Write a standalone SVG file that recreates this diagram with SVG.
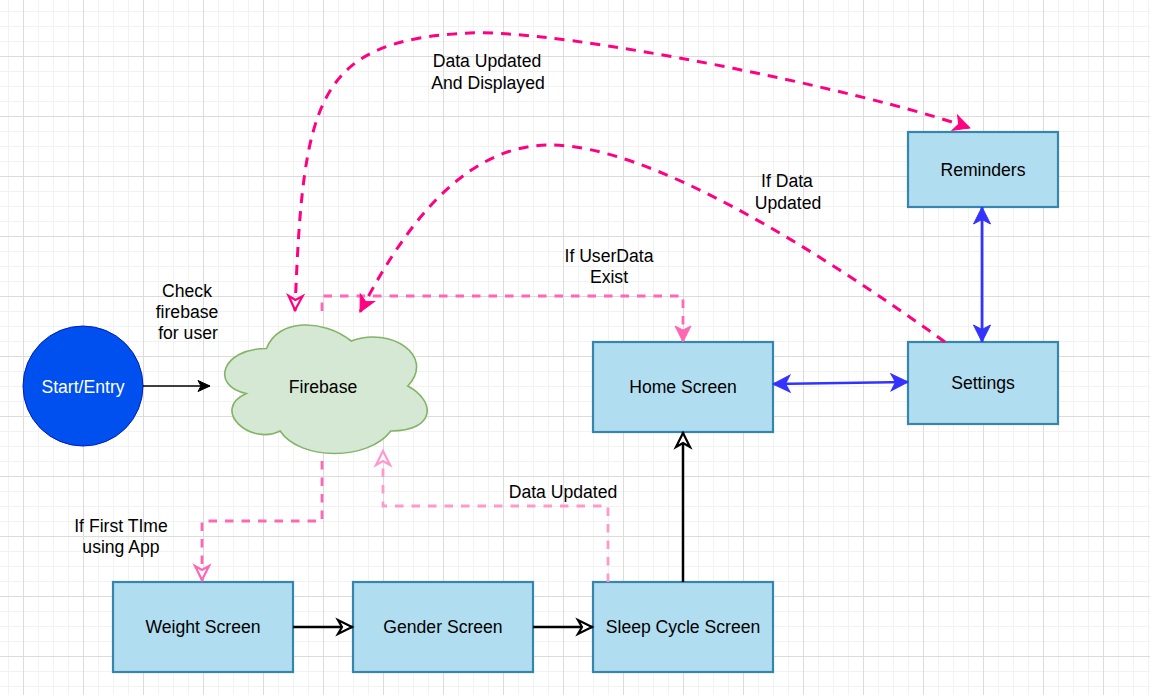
<svg xmlns="http://www.w3.org/2000/svg" width="1150" height="695" viewBox="0 0 1150 695">
<defs>
<pattern id="gMinor" patternUnits="userSpaceOnUse" x="8" y="11" width="15" height="15">
<path d="M0.5,0 V15 M0,0.5 H15" fill="none" stroke="#f2f2f2" stroke-width="1"/>
</pattern>
<pattern id="gMajor" patternUnits="userSpaceOnUse" x="23" y="56" width="60" height="60">
<path d="M0.5,0 V60 M0,0.5 H60" fill="none" stroke="#dcdcdc" stroke-width="1"/>
</pattern>
<marker id="aBlack" markerUnits="userSpaceOnUse" orient="auto-start-reverse" refX="0" refY="0" markerWidth="1" markerHeight="1" overflow="visible">
<path d="M0,0 L-12,-5.5 L-9,0 L-12,5.5 Z" fill="#000" stroke="#000" stroke-width="1"/>
</marker>
<marker id="aBlackOpen" markerUnits="userSpaceOnUse" orient="auto-start-reverse" refX="0" refY="0" markerWidth="1" markerHeight="1" overflow="visible">
<path d="M-1,0 L-15,-7 L-11,0 L-15,7 Z" fill="#fff" stroke="#000" stroke-width="2.2"/>
</marker>
<marker id="aPinkOpen" markerUnits="userSpaceOnUse" orient="auto-start-reverse" refX="0" refY="0" markerWidth="1" markerHeight="1" overflow="visible">
<path d="M-1,0 L-15,-7 L-11,0 L-15,7 Z" fill="#fff" stroke="#ff66b3" stroke-width="2.2"/>
</marker>
<marker id="aLPinkOpen" markerUnits="userSpaceOnUse" orient="auto-start-reverse" refX="0" refY="0" markerWidth="1" markerHeight="1" overflow="visible">
<path d="M-1,0 L-15,-7 L-11,0 L-15,7 Z" fill="#fff" stroke="#ff99cc" stroke-width="2.2"/>
</marker>
<marker id="aDPinkOpen" markerUnits="userSpaceOnUse" orient="auto-start-reverse" refX="0" refY="0" markerWidth="1" markerHeight="1" overflow="visible">
<path d="M-1,0 L-15,-7 L-11,0 L-15,7 Z" fill="#fff" stroke="#ff0080" stroke-width="2.2"/>
</marker>
<marker id="aPink" markerUnits="userSpaceOnUse" orient="auto-start-reverse" refX="0" refY="0" markerWidth="1" markerHeight="1" overflow="visible">
<path d="M0,0 L-16,-8 L-12,0 L-16,8 Z" fill="#ff66b3" stroke="#ff66b3" stroke-width="1"/>
</marker>
<marker id="aDPink" markerUnits="userSpaceOnUse" orient="auto-start-reverse" refX="0" refY="0" markerWidth="1" markerHeight="1" overflow="visible">
<path d="M0,0 L-16,-8 L-12,0 L-16,8 Z" fill="#ff0080" stroke="#ff0080" stroke-width="1"/>
</marker>
<marker id="aBlue" markerUnits="userSpaceOnUse" orient="auto-start-reverse" refX="0" refY="0" markerWidth="1" markerHeight="1" overflow="visible">
<path d="M0,0 L-17,-8.5 L-12.5,0 L-17,8.5 Z" fill="#3333ff" stroke="#3333ff" stroke-width="1"/>
</marker>
</defs>
<style>
.box { fill: #b1ddf0; stroke: #3585ad; stroke-width: 2.2; }
.t { font-family: "Liberation Sans", Arial, sans-serif; font-size: 17.6px; fill: #000; text-anchor: middle; }
.w { fill: #fff; }
.ln { fill: none; }
.blk { stroke: #000; stroke-width: 2.5; }
.pk { stroke: #ff66b3; stroke-width: 2.8; stroke-dasharray: 8.5 8; }
.lpk { stroke: #ff99cc; stroke-width: 2.8; stroke-dasharray: 8.5 8; }
.dpk { stroke: #ff0080; stroke-width: 3; stroke-dasharray: 10 8; }
.blu { stroke: #3333ff; stroke-width: 2.7; }
</style>
<rect x="0" y="0" width="1150" height="695" fill="#fff"/>
<rect x="0" y="0" width="1150" height="695" fill="url(#gMinor)"/>
<rect x="0" y="0" width="1150" height="695" fill="url(#gMajor)"/>

<g id="start">
<circle cx="83" cy="386" r="60" fill="#0050ef" stroke="#001dbc" stroke-width="1"/>
<text class="t w" x="83" y="392.5">Start/Entry</text>
</g>
<g id="firebase">
<path d="M266.5,348.5 C221.3,348.5 210,386 246.2,393.5 C210,410 250.7,446 280.1,431 C300.4,461 368.2,461 390.8,431 C436,431 436,401 407.75,386 C436,356 390.8,326 351.25,341 C323,318.5 277.8,318.5 266.5,348.5 Z" fill="#d5e8d4" stroke="#82b366" stroke-width="1.6"/>
<text class="t" x="323" y="392.7">Firebase</text>
</g>
<g id="home">
<rect class="box" x="593" y="342" width="180" height="90"/>
<text class="t" x="683" y="393.3">Home Screen</text>
</g>
<g id="settings">
<rect class="box" x="908" y="342" width="150" height="82"/>
<text class="t" x="983" y="389.3">Settings</text>
</g>
<g id="reminders">
<rect class="box" x="908" y="132" width="150" height="75"/>
<text class="t" x="983" y="175.5">Reminders</text>
</g>
<g id="weight">
<rect class="box" x="113" y="582" width="180" height="90"/>
<text class="t" x="203" y="633.3">Weight Screen</text>
</g>
<g id="gender">
<rect class="box" x="353" y="582" width="180" height="90"/>
<text class="t" x="443" y="633.3">Gender Screen</text>
</g>
<g id="sleep">
<rect class="box" x="593" y="582" width="180" height="90"/>
<text class="t" x="683" y="633.3">Sleep Cycle Screen</text>
</g>

<g id="connectors">
<path class="ln" d="M143,386 H210" stroke="#000" stroke-width="1.3" marker-end="url(#aBlack)"/>
<path class="ln pk" d="M322,311 V296 H683 V342" marker-end="url(#aPink)"/>
<path class="ln pk" d="M322,461 V521 H202 V581" marker-end="url(#aPinkOpen)"/>
<path class="ln blk" d="M293,627 H353" marker-end="url(#aBlackOpen)"/>
<path class="ln blk" d="M533,627 H593" marker-end="url(#aBlackOpen)"/>
<path class="ln blk" d="M683,582 V432" marker-end="url(#aBlackOpen)"/>
<path class="ln lpk" d="M608,582 V506 H383 V450" marker-end="url(#aLPinkOpen)"/>
<path class="ln blu" d="M773,384 L908,382" marker-start="url(#aBlue)" marker-end="url(#aBlue)"/>
<path class="ln blu" d="M982,207 V342" marker-start="url(#aBlue)" marker-end="url(#aBlue)"/>
<path class="ln dpk" d="M295,311 C303,100 315,40 470,33 C563,29 859,89 970,128" marker-start="url(#aDPinkOpen)" marker-end="url(#aDPink)"/>
<path class="ln dpk" d="M945,342 C817,250 650,145 550,145 C460,145 400,235 360,312" marker-end="url(#aDPink)"/>
<text class="t" x="187" y="297">Check</text>
<text class="t" x="187" y="318">firebase</text>
<text class="t" x="188" y="339">for user</text>
<text class="t" x="609" y="262">If UserData</text>
<text class="t" x="609" y="283">Exist</text>
<text class="t" x="121" y="532">If First TIme</text>
<text class="t" x="121" y="553">using App</text>
<text class="t" x="563" y="498">Data Updated</text>
<text class="t" x="487" y="67">Data Updated</text>
<text class="t" x="488" y="88.5">And Displayed</text>
<text class="t" x="787" y="187">If Data</text>
<text class="t" x="788" y="208.5">Updated</text>
</g>
</svg>
